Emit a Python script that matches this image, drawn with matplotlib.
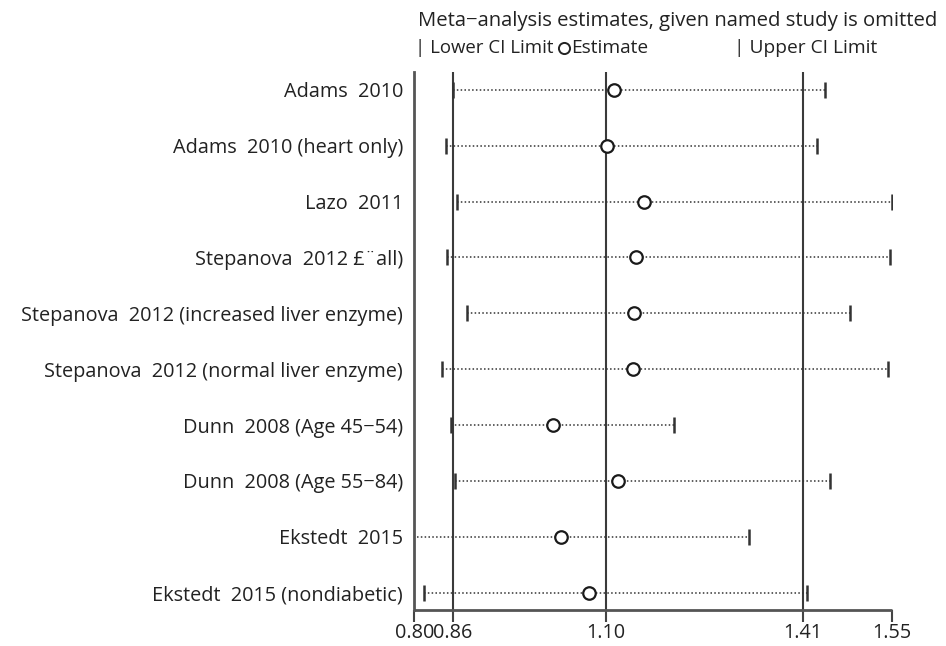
#!/usr/bin/env python3
"""
Sensitivity analysis plot: meta-analysis estimates with each named study omitted.
"""

import matplotlib
matplotlib.use("Agg")
import matplotlib.pyplot as plt
from matplotlib.lines import Line2D
import numpy as np

plt.rcParams['font.family'] = ['Open Sans', 'DejaVu Sans']

studies = [
    "Adams  2010",
    "Adams  2010 (heart only)",
    "Lazo  2011",
    "Stepanova  2012 \u00a3\u00a8all)",
    "Stepanova  2012 (increased liver enzyme)",
    "Stepanova  2012 (normal liver enzyme)",
    "Dunn  2008 (Age 45\u221254)",
    "Dunn  2008 (Age 55\u221284)",
    "Ekstedt  2015",
    "Ekstedt  2015 (nondiabetic)",
]
estimate = [1.114, 1.102, 1.160, 1.148, 1.145, 1.143, 1.018, 1.119, 1.030, 1.074]
lower = [0.860, 0.849, 0.867, 0.851, 0.883, 0.844, 0.857, 0.864, 0.780, 0.815]
upper = [1.445, 1.432, 1.550, 1.546, 1.483, 1.544, 1.208, 1.453, 1.325, 1.416]

ref_lines = [0.86, 1.10, 1.41]
xticks = [0.80, 0.86, 1.10, 1.41, 1.55]
xticklabels = ["0.80", "0.86", "1.10", "1.41", "1.55"]

FS = 14.3
W, H = 946, 646
fig = plt.figure(figsize=(W / 100, H / 100), dpi=100)
ax = fig.add_axes([414.3 / W, 1 - 610 / H, (892.3 - 414.3) / W, (610 - 72) / H])

n = len(studies)
ypos = np.arange(n, 0, -1)

# reference lines
for xv in ref_lines:
    ax.axvline(xv, color='#3a3a3a', lw=1.5, zorder=1)

# dotted CI lines, clipped to axis range
for y, lo, hi in zip(ypos, lower, upper):
    ax.plot([max(lo, 0.805), hi], [y, y], color='#333333', lw=1.1,
            linestyle=(0, (1, 1.5)), zorder=2)

# CI limit ticks (only those inside the axis)
lo_arr = np.array(lower)
hi_arr = np.array(upper)
vis = lo_arr >= 0.80
ax.plot(lo_arr[vis], ypos[vis], linestyle='none', marker='|', markersize=11,
        markeredgewidth=1.8, color='#333333', zorder=3)
ax.plot(hi_arr, ypos, linestyle='none', marker='|', markersize=11,
        markeredgewidth=1.8, color='#333333', zorder=3)

# estimates
ax.plot(estimate, ypos, linestyle='none', marker='o', markersize=9,
        markerfacecolor='white', markeredgecolor='#1a1a1a', markeredgewidth=1.6,
        zorder=4)

ax.set_xlim(0.80, 1.55)
ax.set_ylim(0.69, 10.32)

ax.set_yticks(ypos)
ax.set_yticklabels(studies, fontsize=FS, color='#222222')
ax.tick_params(axis='y', length=0, pad=8)

ax.set_xticks(xticks)
ax.set_xticklabels(xticklabels, fontsize=FS, color='#222222')
ax.tick_params(axis='x', length=8.6, width=1.5, color='#444444', pad=1)

for side in ['top', 'right']:
    ax.spines[side].set_visible(False)
ax.spines['left'].set_color('#555555')
ax.spines['left'].set_linewidth(2)
ax.spines['bottom'].set_color('#555555')
ax.spines['bottom'].set_linewidth(2)
ax.spines['bottom'].set_capstyle('butt')

# header and key
fig.text(418 / W, 1 - 21 / H, "Meta\u2212analysis estimates, given named study is omitted",
         fontsize=14.6, color='#222222', ha='left', va='center')
fig.text(415 / W, 1 - 48 / H, "| Lower CI Limit", fontsize=13.4, color='#222222',
         ha='left', va='center')
fig.add_artist(Line2D([564 / W], [1 - 48 / H], transform=fig.transFigure,
                      marker='o', markersize=8, markerfacecolor='white',
                      markeredgecolor='#222222', markeredgewidth=1.4, linestyle='none'))
fig.text(571 / W, 1 - 48 / H, "Estimate", fontsize=13.8, color='#222222',
         ha='left', va='center')
fig.text(734 / W, 1 - 48 / H, "| Upper CI Limit", fontsize=13.8, color='#222222',
         ha='left', va='center')

fig.savefig('out.png', dpi=100)
